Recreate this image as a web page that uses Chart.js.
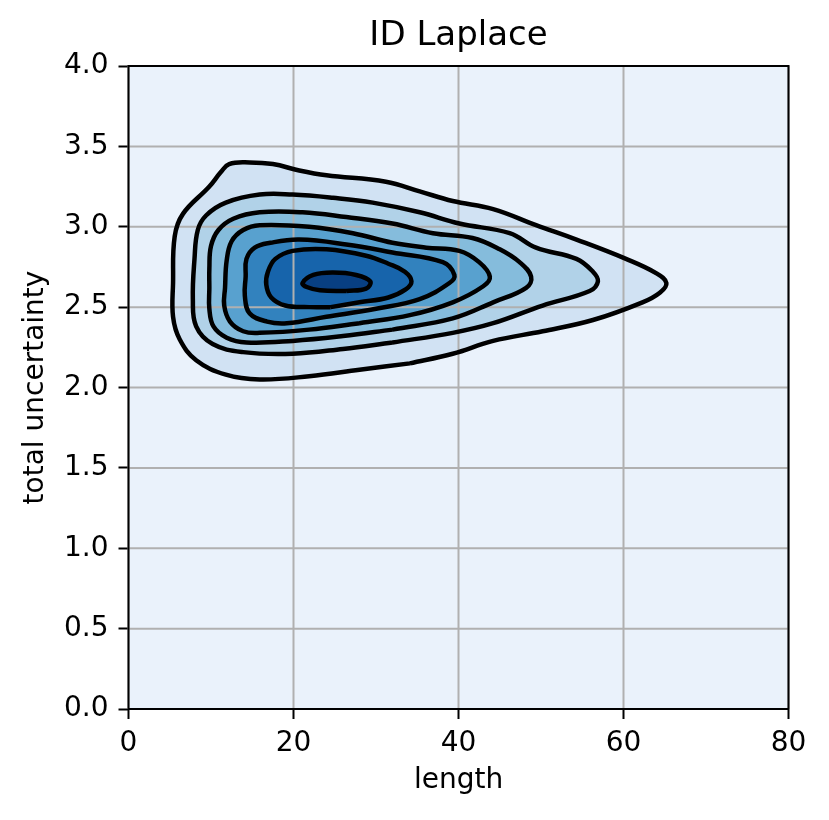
<!DOCTYPE html>
<html>
<head>
<meta charset="utf-8">
<script src="https://cdn.jsdelivr.net/npm/chart.js@4.4.1/dist/chart.umd.min.js"></script>
<style>
  body { margin: 0; background: #ffffff; }
  #chart { display: block; }
</style>
</head>
<body>
<canvas id="chart" width="829" height="820"></canvas>
<script>
// KDE contour levels, outermost first, [length, total uncertainty]
// each loop starts on the flat bottom edge so the seam is not visible
const contour1 = [[34.1,2.15],[28.0,2.11],[21.9,2.07],[15.9,2.05],[11.8,2.08],[8.2,2.17],[6.2,2.30],[5.4,2.44],[5.4,2.65],[5.6,2.94],[6.6,3.08],[9.8,3.25],[11.2,3.34],[12.2,3.39],[14.7,3.40],[17.5,3.39],[20.7,3.35],[24.0,3.32],[31.2,3.28],[35.3,3.22],[39.3,3.16],[44.2,3.11],[49.4,3.01],[54.3,2.92],[60.3,2.80],[64.0,2.71],[65.2,2.65],[64.4,2.59],[62.3,2.53],[56.3,2.42],[50.2,2.35],[44.2,2.29],[39.3,2.21]];
const contour2 = [[32.0,2.28],[26.0,2.24],[19.9,2.21],[13.9,2.22],[10.2,2.27],[8.2,2.38],[7.8,2.55],[8.0,2.80],[8.4,2.98],[9.4,3.07],[11.8,3.15],[15.9,3.20],[19.9,3.20],[24.8,3.18],[29.6,3.15],[35.3,3.09],[40.1,3.02],[46.2,2.96],[49.4,2.87],[54.3,2.80],[56.3,2.72],[56.9,2.66],[55.9,2.60],[50.2,2.51],[44.2,2.40],[39.3,2.34]];
const contour3 = [[32.0,2.36],[26.0,2.32],[19.9,2.29],[14.3,2.28],[11.9,2.31],[10.3,2.38],[9.8,2.49],[9.8,2.62],[9.8,2.74],[10.0,2.88],[10.9,2.98],[12.7,3.05],[15.9,3.09],[21.1,3.09],[26.4,3.06],[32.0,3.02],[36.9,2.96],[41.7,2.93],[45.0,2.86],[47.4,2.78],[48.8,2.69],[48.2,2.62],[44.2,2.53],[39.3,2.43]];
const contour4 = [[28.0,2.40],[21.9,2.36],[15.9,2.34],[13.9,2.35],[12.3,2.41],[11.6,2.51],[11.7,2.62],[11.9,2.79],[12.5,2.91],[13.9,2.98],[15.9,3.01],[21.9,3.00],[27.2,2.96],[32.0,2.90],[36.1,2.87],[40.1,2.85],[42.5,2.78],[43.8,2.69],[43.0,2.63],[39.3,2.53],[34.1,2.45]];
const contour5 = [[24.0,2.44],[19.2,2.40],[16.8,2.41],[14.7,2.46],[14.1,2.57],[14.2,2.69],[14.3,2.80],[15.3,2.87],[17.2,2.90],[20.7,2.92],[26.4,2.89],[32.0,2.84],[38.1,2.78],[39.5,2.70],[38.9,2.65],[35.3,2.55],[30.0,2.49]];
const contour6 = [[24.5,2.50],[21.9,2.50],[19.0,2.51],[17.3,2.56],[16.7,2.64],[16.9,2.72],[17.8,2.80],[19.9,2.85],[24.0,2.86],[28.8,2.82],[31.5,2.77],[33.5,2.72],[34.3,2.66],[33.6,2.61],[31.5,2.56],[28.0,2.53]];
const contour7 = [[26.4,2.60],[23.2,2.605],[21.6,2.625],[21.1,2.65],[22.4,2.70],[24.8,2.715],[27.6,2.70],[29.3,2.66],[28.8,2.615]];

const contours = [contour1, contour2, contour3, contour4, contour5, contour6, contour7];
const levelColors = ['#d1e2f3', '#b1d2e8', '#85bcdc', '#58a1cf', '#3282be', '#1764ab', '#083f82'];
const backgroundColor = '#eaf2fb';

const xTicks = [0, 20, 40, 60, 80];
const yTicks = [0.0, 0.5, 1.0, 1.5, 2.0, 2.5, 3.0, 3.5, 4.0];

const FONT = "'DejaVu Sans', 'Liberation Sans', sans-serif";

function closeLoop(pts) {
  const out = pts.map(p => ({ x: p[0], y: p[1] }));
  out.push({ x: pts[0][0], y: pts[0][1] });
  return out;
}

const datasets = [];
// filled levels first (outermost drawn first)
contours.forEach((c, i) => {
  datasets.push({
    data: closeLoop(c),
    showLine: true,
    fill: 'shape',
    backgroundColor: levelColors[i],
    borderWidth: 0,
    pointRadius: 0,
    tension: 0.4,
    order: 50 - i,
    isFill: true
  });
});
// contour lines on top
contours.forEach(c => {
  datasets.push({
    data: closeLoop(c),
    showLine: true,
    fill: false,
    borderColor: '#000000',
    borderWidth: 4.5,
    pointRadius: 0,
    tension: 0.4,
    order: 1
  });
});

// background of plot area, grid between fills and lines, full frame
let gridDone = false;
const framePlugin = {
  id: 'frame',
  beforeDatasetsDraw(chart) {
    const { ctx, chartArea: a } = chart;
    ctx.save();
    ctx.fillStyle = backgroundColor;
    ctx.fillRect(a.left, a.top, a.right - a.left, a.bottom - a.top);
    ctx.restore();
    gridDone = false;
  },
  beforeDatasetDraw(chart, args) {
    if (gridDone || chart.data.datasets[args.index].isFill) return;
    gridDone = true;
    const { ctx, chartArea: a, scales } = chart;
    ctx.save();
    ctx.strokeStyle = '#b0b0b0';
    ctx.lineWidth = 2;
    xTicks.forEach(v => {
      const px = scales.x.getPixelForValue(v);
      ctx.beginPath(); ctx.moveTo(px, a.top); ctx.lineTo(px, a.bottom); ctx.stroke();
    });
    yTicks.forEach(v => {
      const py = scales.y.getPixelForValue(v);
      ctx.beginPath(); ctx.moveTo(a.left, py); ctx.lineTo(a.right, py); ctx.stroke();
    });
    ctx.restore();
  },
  afterDraw(chart) {
    const { ctx, chartArea: a } = chart;
    ctx.save();
    ctx.strokeStyle = '#000000';
    ctx.lineWidth = 2;
    ctx.strokeRect(a.left, a.top, a.right - a.left, a.bottom - a.top);
    ctx.restore();
  }
};

new Chart(document.getElementById('chart'), {
  type: 'scatter',
  data: { datasets },
  plugins: [framePlugin],
  options: {
    responsive: false,
    animation: false,
    devicePixelRatio: 1,
    layout: { padding: { left: 0, right: 40.5, top: 0, bottom: 0 } },
    plugins: {
      legend: { display: false },
      tooltip: { enabled: false },
      title: {
        display: true,
        fullSize: false,
        text: 'ID Laplace',
        color: '#000000',
        font: { family: FONT, size: 34, weight: 'normal' },
        padding: { top: 15.5, bottom: 9.7 }
      }
    },
    scales: {
      x: {
        type: 'linear',
        min: 0,
        max: 80,
        afterBuildTicks: s => { s.ticks = xTicks.map(v => ({ value: v })); },
        afterFit: s => { s.height = 111; s.paddingLeft = 0; s.paddingRight = 0; },
        ticks: {
          color: '#000000',
          padding: 8,
          maxRotation: 0,
          font: { family: FONT, size: 28 },
          callback: v => String(v)
        },
        grid: { drawOnChartArea: false, tickLength: 10, tickWidth: 2, tickColor: '#000000' },
        border: { display: true, color: '#000000', width: 2 },
        title: {
          display: true,
          text: 'length',
          color: '#000000',
          font: { family: FONT, size: 28 },
          padding: { top: 0, bottom: 22 }
        }
      },
      y: {
        type: 'linear',
        min: 0,
        max: 4,
        afterBuildTicks: s => { s.ticks = yTicks.map(v => ({ value: v })); },
        afterFit: s => { s.width = 128.5; s.paddingTop = 0; s.paddingBottom = 0; },
        ticks: {
          color: '#000000',
          padding: 10,
          font: { family: FONT, size: 28 },
          callback: v => Number(v).toFixed(1)
        },
        grid: { drawOnChartArea: false, tickLength: 10, tickWidth: 2, tickColor: '#000000' },
        border: { display: true, color: '#000000', width: 2 },
        title: {
          display: true,
          text: 'total uncertainty',
          color: '#000000',
          font: { family: FONT, size: 28 },
          padding: { top: 18.5, bottom: 0 }
        }
      }
    }
  }
});
</script>
</body>
</html>
